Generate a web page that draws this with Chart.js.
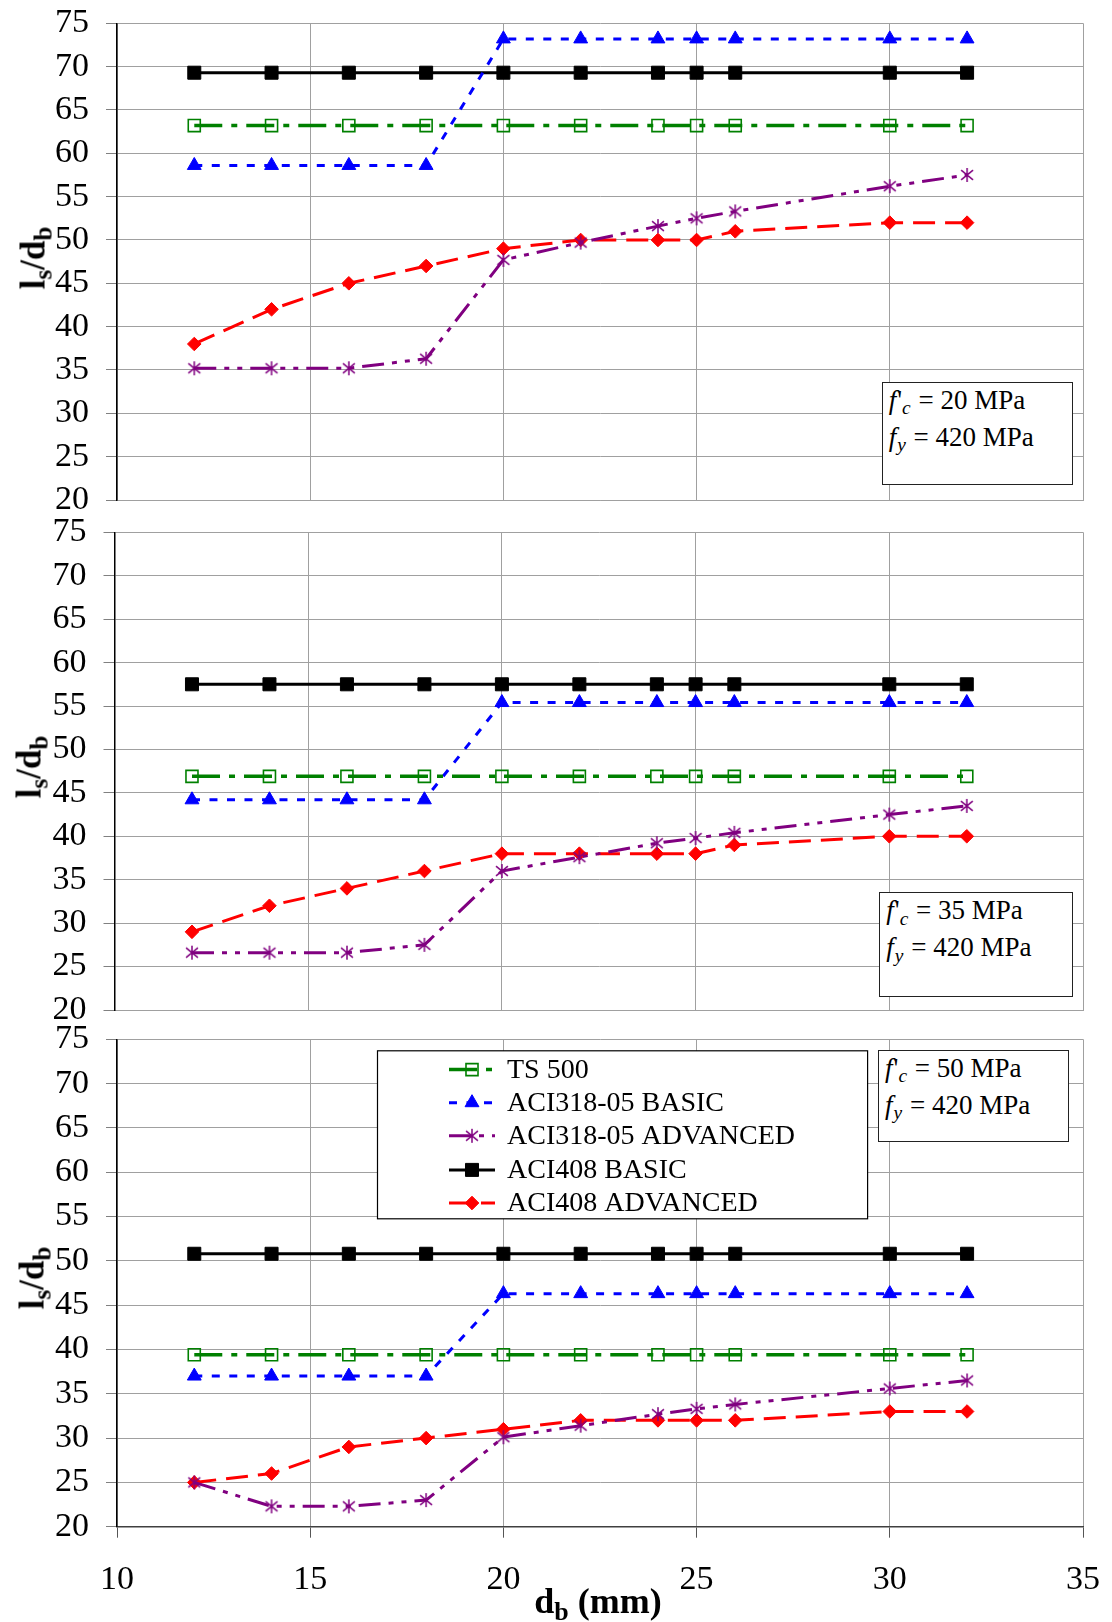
<!DOCTYPE html>
<html>
<head>
<meta charset="utf-8">
<script src="https://cdn.jsdelivr.net/npm/chart.js@4.4.0/dist/chart.umd.min.js"></script>
<style>
  body { margin: 0; background: #fff; }
  #page { position: relative; width: 1112px; height: 1622px; overflow: hidden;
          font-family: "Liberation Serif", "Times New Roman", serif; color: #000; }
  canvas { position: absolute; left: 0; }
  .ytitle { position: absolute; font-weight: bold; font-size: 35px; line-height: 1;
            white-space: nowrap; transform: translate(-50%, -50%) rotate(-90deg); }
  .xtitle { position: absolute; font-weight: bold; font-size: 36px; line-height: 1;
            white-space: nowrap; transform: translateX(-50%); }
  .sb { font-size: 0.72em; position: relative; top: 0.28em; }
  .note { position: absolute; background: #fff; border: 1.5px solid #222; box-sizing: border-box;
          font-size: 27px; line-height: 35px; padding-left: 6px; white-space: nowrap; }
  .note i { margin-right: 1px; }
</style>
</head>
<body>
<div id="page">
  <canvas id="c20"></canvas>
  <canvas id="c35"></canvas>
  <canvas id="c50"></canvas>

  <div class="ytitle" style="left:33px; top:258px;">l<span class="sb">s</span>/d<span class="sb">b</span></div>
  <div class="ytitle" style="left:29px; top:767px;">l<span class="sb">s</span>/d<span class="sb">b</span></div>
  <div class="ytitle" style="left:32px; top:1278px;">l<span class="sb">s</span>/d<span class="sb">b</span></div>
  <div class="xtitle" style="left:598px; top:1583px;">d<span class="sb">b</span> (mm)</div>

  <div class="note" style="left:881.7px; top:381.7px; width:191.6px; height:103.3px;">
    <i>f</i>'<span class="sb"><i>c</i></span> = 20 MPa<br><i>f</i><span class="sb"><i>y</i></span> = 420 MPa
  </div>
  <div class="note" style="left:879.3px; top:892.3px; width:194.1px; height:104.4px;">
    <i>f</i>'<span class="sb"><i>c</i></span> = 35 MPa<br><i>f</i><span class="sb"><i>y</i></span> = 420 MPa
  </div>
  <div class="note" style="left:878px; top:1049.6px; width:191px; height:92.9px;">
    <i>f</i>'<span class="sb"><i>c</i></span> = 50 MPa<br><i>f</i><span class="sb"><i>y</i></span> = 420 MPa
  </div>
</div>

<script>
// bar diameter (mm)
const db = [12, 14, 16, 18, 20, 22, 24, 25, 26, 30, 32];

const seriesNames = ["TS 500", "ACI318-05 BASIC", "ACI318-05 ADVANCED", "ACI408 BASIC", "ACI408 ADVANCED"];

// f'c = 20 MPa
const ts500_20   = [63.2, 63.2, 63.2, 63.2, 63.2, 63.2, 63.2, 63.2, 63.2, 63.2, 63.2];
const aci318b_20 = [58.6, 58.6, 58.6, 58.6, 73.2, 73.2, 73.2, 73.2, 73.2, 73.2, 73.2];
const aci318a_20 = [35.2, 35.2, 35.2, 36.3, 47.7, 49.7, 51.6, 52.5, 53.3, 56.2, 57.5];
const aci408b_20 = [69.3, 69.3, 69.3, 69.3, 69.3, 69.3, 69.3, 69.3, 69.3, 69.3, 69.3];
const aci408a_20 = [38, 42, 45, 47, 49, 50, 50, 50, 51, 52, 52];

// f'c = 35 MPa
const ts500_35   = [46.9, 46.9, 46.9, 46.9, 46.9, 46.9, 46.9, 46.9, 46.9, 46.9, 46.9];
const aci318b_35 = [44.2, 44.2, 44.2, 44.2, 55.4, 55.4, 55.4, 55.4, 55.4, 55.4, 55.4];
const aci318a_35 = [26.6, 26.6, 26.6, 27.5, 36.0, 37.6, 39.2, 39.8, 40.4, 42.5, 43.5];
const aci408b_35 = [57.5, 57.5, 57.5, 57.5, 57.5, 57.5, 57.5, 57.5, 57.5, 57.5, 57.5];
const aci408a_35 = [29, 32, 34, 36, 38, 38, 38, 38, 39, 40, 40];

// f'c = 50 MPa
const ts500_50   = [39.4, 39.4, 39.4, 39.4, 39.4, 39.4, 39.4, 39.4, 39.4, 39.4, 39.4];
const aci318b_50 = [37.0, 37.0, 37.0, 37.0, 46.3, 46.3, 46.3, 46.3, 46.3, 46.3, 46.3];
const aci318a_50 = [25.0, 22.3, 22.3, 23.0, 30.1, 31.4, 32.7, 33.3, 33.8, 35.6, 36.5];
const aci408b_50 = [50.8, 50.8, 50.8, 50.8, 50.8, 50.8, 50.8, 50.8, 50.8, 50.8, 50.8];
const aci408a_50 = [25, 26, 29, 30, 31, 32, 32, 32, 32, 33, 33];

// axis ranges / ticks
const xMin = 10, xMax = 35, xStep = 5;
const yMin = 20, yMax = 75, yStep = 5;

// excel style asterisk marker
function asterisk(color, size) {
    const c = document.createElement("canvas");
    c.width = size; c.height = size;
    const g = c.getContext("2d");
    const m = size / 2, r = size / 2 - 1;
    g.strokeStyle = color;
    g.lineWidth = 1.5;
    g.beginPath();
    g.moveTo(m, m - r); g.lineTo(m, m + r);
    g.moveTo(m - r * 0.85, m - r * 0.7); g.lineTo(m + r * 0.85, m + r * 0.7);
    g.moveTo(m - r * 0.85, m + r * 0.7); g.lineTo(m + r * 0.85, m - r * 0.7);
    g.stroke();
    return c;
}

const styles = [
    { color: "#008000", dash: [28, 9, 6, 9], width: 3.5, point: "rect", radius: 8.5, fill: "rgba(0,0,0,0)", pbw: 1.6 },
    { color: "#0000ff", dash: [8, 9.5], width: 3, point: "triangle", radius: 8, fill: "#0000ff", pbw: 1 },
    { color: "#800080", dash: [22, 8, 5, 8, 5, 8], width: 3, point: asterisk("#800080", 16), radius: 7, fill: "#800080", pbw: 1 },
    { color: "#000000", dash: [], width: 3, point: "rect", radius: 9.2, fill: "#000000", pbw: 1 },
    { color: "#ff0000", dash: [22, 10], width: 3, point: "rectRot", radius: 6.8, fill: "#ff0000", pbw: 1 }
];

const serif = "'Liberation Serif', 'Times New Roman', serif";

// legend box inside the last panel
const boxLegend = {
    id: "boxLegend",
    afterDraw(chart) {
        const ctx = chart.ctx;
        const L = 377.5, T = 32.8, R = 867.6, B = 200.8;
        const rows = [51.6, 84.7, 117.8, 151.9, 185];
        ctx.save();
        ctx.fillStyle = "#fff";
        ctx.fillRect(L, T, R - L, B - T);
        ctx.strokeStyle = "#000";
        ctx.lineWidth = 1.2;
        ctx.strokeRect(L, T, R - L, B - T);

        chart.data.datasets.forEach((ds, i) => {
            const y = rows[i];
            ctx.save();
            ctx.strokeStyle = ds.borderColor;
            ctx.lineWidth = ds.borderWidth;
            ctx.setLineDash(ds.borderDash);
            ctx.beginPath();
            ctx.moveTo(449, y);
            ctx.lineTo(495, y);
            ctx.stroke();
            ctx.restore();

            ctx.save();
            ctx.fillStyle = ds.pointBackgroundColor;
            ctx.strokeStyle = ds.pointBorderColor;
            ctx.lineWidth = ds.pointBorderWidth;
            Chart.helpers.drawPoint(ctx, {
                pointStyle: ds.pointStyle, rotation: 0,
                radius: ds.pointRadius, borderWidth: ds.pointBorderWidth
            }, 472, y);
            ctx.restore();

            ctx.fillStyle = "#000";
            ctx.font = "28px " + serif;
            ctx.textBaseline = "middle";
            ctx.textAlign = "left";
            ctx.fillText(ds.label, 507, y + 1);
        });
        ctx.restore();
    }
};

function makeChart(id, top, height, padTop, axisW, series, last) {
    const cv = document.getElementById(id);
    cv.width = 1112;
    cv.height = height;
    cv.style.top = top + "px";

    const datasets = series.map((vals, i) => ({
        label: seriesNames[i],
        data: db.map((x, j) => ({ x: x, y: vals[j] })),
        borderColor: styles[i].color,
        borderWidth: styles[i].width,
        borderDash: styles[i].dash,
        pointStyle: styles[i].point,
        pointRadius: styles[i].radius,
        pointBackgroundColor: styles[i].fill,
        pointBorderColor: styles[i].color,
        pointBorderWidth: styles[i].pbw,
        tension: 0,
        fill: false
    }));

    return new Chart(cv, {
        type: "line",
        data: { datasets },
        options: {
            responsive: false,
            animation: false,
            events: [],
            layout: { padding: { top: padTop, right: 29, bottom: last ? 0 : 20, left: 0 } },
            plugins: { legend: { display: false }, tooltip: { enabled: false } },
            scales: {
                x: {
                    type: "linear",
                    min: xMin, max: xMax,
                    ticks: {
                        display: last, stepSize: xStep, color: "#000", padding: 22,
                        autoSkip: false, maxRotation: 0,
                        font: { family: serif, size: 34 }
                    },
                    grid: {
                        color: "#a0a0a0", lineWidth: 1,
                        drawTicks: last, tickLength: 11, tickColor: "#555"
                    },
                    border: { color: last ? "#404040" : "#a0a0a0", width: last ? 1.5 : 1 },
                    afterFit: s => {
                        s.height = last ? 95.3 : 0;
                        s.paddingLeft = 0; s.paddingRight = 0;
                    }
                },
                y: {
                    min: yMin, max: yMax,
                    ticks: {
                        stepSize: yStep, color: "#000", padding: 17,
                        autoSkip: false,
                        font: { family: serif, size: 34 }
                    },
                    grid: { color: "#a0a0a0", lineWidth: 1, tickLength: 11, tickColor: "#808080" },
                    border: { color: "#000", width: 1.5 },
                    afterFit: s => {
                        s.width = axisW;
                        s.paddingTop = 0; s.paddingBottom = 0;
                    }
                }
            }
        },
        plugins: last ? [boxLegend] : []
    });
}

makeChart("c20", 0, 520, 23.3, 117, [ts500_20, aci318b_20, aci318a_20, aci408b_20, aci408a_20], false);
makeChart("c35", 512, 518, 20.3, 114.5, [ts500_35, aci318b_35, aci318a_35, aci408b_35, aci408a_35], false);
makeChart("c50", 1018, 604, 21.3, 117, [ts500_50, aci318b_50, aci318a_50, aci408b_50, aci408a_50], true);
</script>
</body>
</html>
